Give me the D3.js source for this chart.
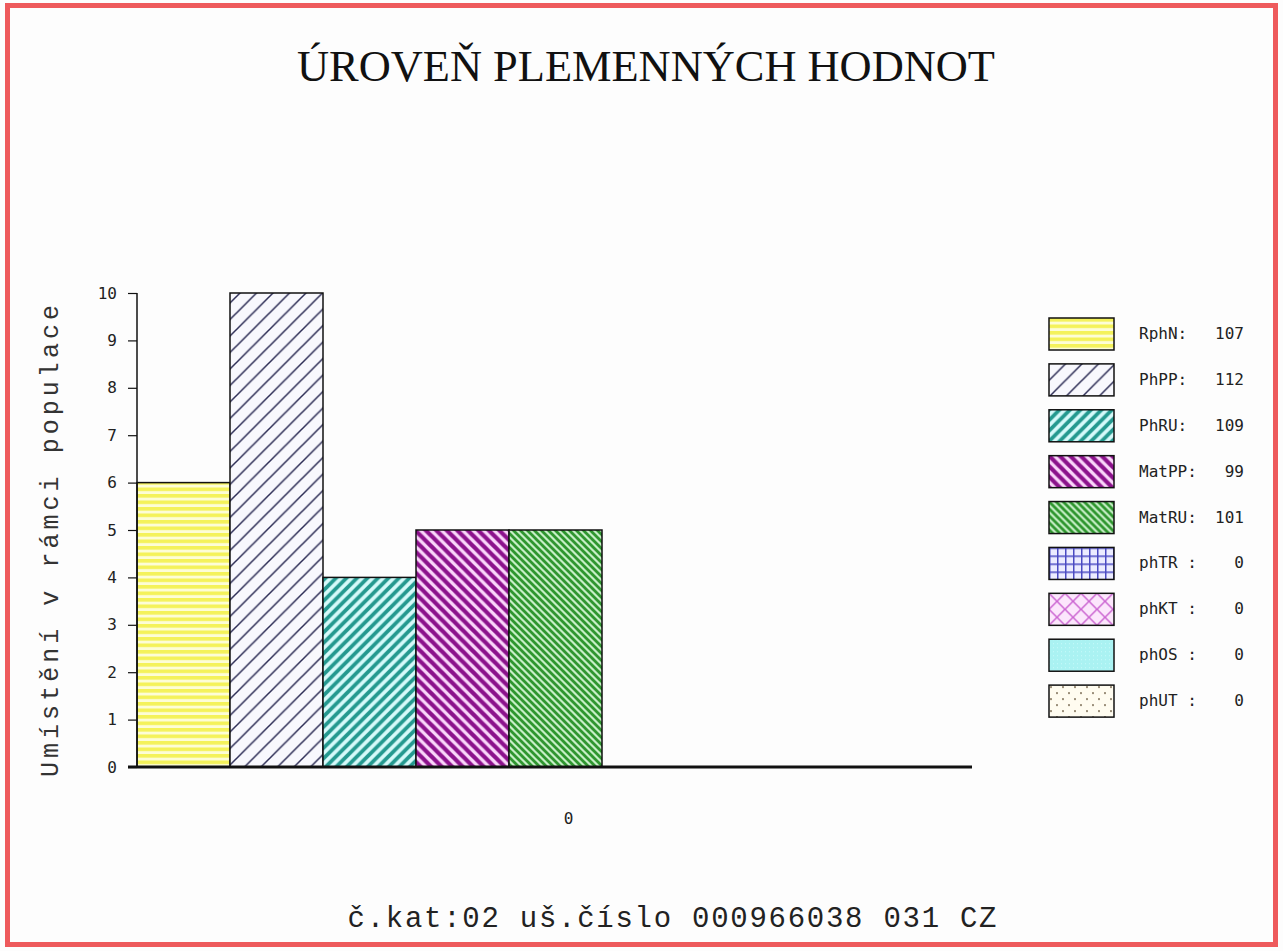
<!DOCTYPE html>
<html>
<head>
<meta charset="utf-8">
<script src="https://cdn.jsdelivr.net/npm/d3@7"></script>
<style>
  html, body { margin: 0; padding: 0; background: #ffffff; }
  svg { display: block; }
</style>
</head>
<body>
<svg id="chart" width="1283" height="951"></svg>
<script>
// ---- data ----
const categories = ["0"];
const seriesNames = ["RphN", "PhPP", "PhRU", "MatPP", "MatRU", "phTR", "phKT", "phOS", "phUT"];
const placement = [6, 10, 4, 5, 5, 0, 0, 0, 0];          // Umístění v rámci populace
const breedingValues = [107, 112, 109, 99, 101, 0, 0, 0, 0];
const legendLabels = ["RphN:", "PhPP:", "PhRU:", "MatPP:", "MatRU:", "phTR :", "phKT :", "phOS :", "phUT :"];
const yTicks = [0, 1, 2, 3, 4, 5, 6, 7, 8, 9, 10];
const titleText = "ÚROVEŇ PLEMENNÝCH HODNOT";
const yAxisTitle = "Umístění v rámci populace";
const footerText = "č.kat:02 uš.číslo 000966038 031 CZ";

const svg = d3.select("#chart");
const W = 1283, H = 951;

// background and frame
svg.append("rect").attr("x", 0).attr("y", 0).attr("width", W).attr("height", H).attr("fill", "#fdfdfd");
svg.append("rect").attr("x", 7.5).attr("y", 5.5).attr("width", 1268).attr("height", 939)
  .attr("fill", "none").attr("stroke", "#ee5a5c").attr("stroke-width", 5);

// ---- patterns ----
const defs = svg.append("defs");
function pat(id, w, h) {
  return defs.append("pattern").attr("id", id).attr("patternUnits", "userSpaceOnUse")
    .attr("width", w).attr("height", h);
}
// RphN: horizontal yellow stripes
{
  const p = pat("p0", 8, 6.5);
  p.append("rect").attr("width", 8).attr("height", 6.5).attr("fill", "#fdfdd6");
  p.append("rect").attr("y", 0).attr("width", 8).attr("height", 3.6).attr("fill", "#f4f25a");
}
// PhPP: thin navy "/" lines
{
  const s = 16.5;
  const p = pat("p1", s, s);
  p.append("rect").attr("width", s).attr("height", s).attr("fill", "#f8f8fd");
  p.append("path").attr("d", `M0,${s} L${s},0 M-2,2 L2,-2 M${s-2},${s+2} L${s+2},${s-2}`)
    .attr("stroke", "#2c2c55").attr("stroke-width", 1.5);
}
// PhRU: teal "/" stripes
{
  const s = 10.5;
  const p = pat("p2", s, s);
  p.append("rect").attr("width", s).attr("height", s).attr("fill", "#d6fafa");
  p.append("path").attr("d", `M0,${s} L${s},0 M-3,3 L3,-3 M${s-3},${s+3} L${s+3},${s-3}`)
    .attr("stroke", "#24998f").attr("stroke-width", 3.8);
}
// MatPP: purple "\" stripes
{
  const s = 10.5;
  const p = pat("p3", s, s);
  p.append("rect").attr("width", s).attr("height", s).attr("fill", "#fad6fa");
  p.append("path").attr("d", `M0,0 L${s},${s} M-3,${s-3} L3,${s+3} M${s-3},-3 L${s+3},3`)
    .attr("stroke", "#8c128c").attr("stroke-width", 4.2);
}
// MatRU: green "\" fine stripes
{
  const s = 7;
  const p = pat("p4", s, s);
  p.append("rect").attr("width", s).attr("height", s).attr("fill", "#c6eec6");
  p.append("path").attr("d", `M0,0 L${s},${s} M-3,${s-3} L3,${s+3} M${s-3},-3 L${s+3},3`)
    .attr("stroke", "#2f962f").attr("stroke-width", 2.8);
}
// phTR: blue grid
{
  const s = 8;
  const p = pat("p5", s, s);
  p.append("rect").attr("width", s).attr("height", s).attr("fill", "#ececff");
  p.append("path").attr("d", `M0,0.75 L${s},0.75 M0.75,0 L0.75,${s}`)
    .attr("stroke", "#4a4ac2").attr("stroke-width", 1.5);
}
// phKT: pink diamond crosshatch
{
  const s = 16;
  const p = pat("p6", s, s);
  p.append("rect").attr("width", s).attr("height", s).attr("fill", "#fce6fc");
  p.append("path").attr("d", `M0,0 L${s},${s} M0,${s} L${s},0`)
    .attr("stroke", "#cc66d2").attr("stroke-width", 1.5);
}
// phOS: light cyan
{
  const s = 4;
  const p = pat("p7", s, s);
  p.append("rect").attr("width", s).attr("height", s).attr("fill", "#aaf2f2");
  p.append("rect").attr("x", 0).attr("y", 0).attr("width", 1).attr("height", 1).attr("fill", "#c8fafa");
}
// phUT: sparse dots
{
  const s = 12;
  const p = pat("p8", s, s);
  p.append("rect").attr("width", s).attr("height", s).attr("fill", "#fffcf0");
  p.append("circle").attr("cx", 2).attr("cy", 2).attr("r", 0.9).attr("fill", "#6a5a40");
  p.append("circle").attr("cx", 8).attr("cy", 8).attr("r", 0.9).attr("fill", "#6a5a40");
}
const fills = seriesNames.map((d, i) => `url(#p${i})`);

// ---- scales ----
const plotLeft = 137, plotRight = 974, plotTop = 293, plotBottom = 767;
const y = d3.scaleLinear().domain([0, 10]).range([plotBottom, plotTop]);
const x0 = d3.scaleBand().domain(categories).range([plotLeft, plotRight]).padding(0);
const x1 = d3.scaleBand().domain(seriesNames).range([0, x0.bandwidth()]).padding(0);

// ---- title ----
svg.append("text").attr("x", 646).attr("y", 81).attr("text-anchor", "middle")
  .attr("font-family", "'Liberation Serif', 'Times New Roman', serif").attr("font-size", 44)
  .attr("fill", "#111").attr("textLength", 698).attr("lengthAdjust", "spacingAndGlyphs")
  .text(titleText);

// ---- bars ----
const groups = svg.append("g").selectAll("g").data(categories).join("g")
  .attr("transform", d => `translate(${x0(d)},0)`);
groups.selectAll("rect")
  .data(seriesNames.map((s, i) => ({ s, v: placement[i], i })).filter(d => d.v > 0))
  .join("rect")
  .attr("x", d => x1(d.s))
  .attr("y", d => y(d.v))
  .attr("width", x1.bandwidth())
  .attr("height", d => y(0) - y(d.v))
  .attr("fill", d => fills[d.i])
  .attr("stroke", "#111").attr("stroke-width", 1.5);

// ---- y axis ----
const yAxis = d3.axisLeft(y).tickValues(yTicks).tickFormat(d3.format("d")).tickSize(9).tickPadding(11);
const gy = svg.append("g").attr("transform", `translate(${plotLeft},0)`).call(yAxis);
gy.select(".domain").attr("stroke", "#111").attr("stroke-width", 1.5).attr("d", `M0,${plotTop}V${plotBottom}`);
gy.selectAll(".tick line").attr("stroke", "#111").attr("stroke-width", 1.2);
gy.selectAll(".tick text").attr("font-family", "'DejaVu Sans Mono', monospace").attr("font-size", 16).attr("fill", "#222");

// ---- x axis ----
const xAxis = d3.axisBottom(x0).tickSize(0).tickPadding(0);
const gx = svg.append("g").attr("transform", `translate(0,${plotBottom})`).call(xAxis);
gx.select(".domain").attr("stroke", "#111").attr("stroke-width", 3).attr("d", `M${plotLeft - 9},0H${972}`);
gx.selectAll(".tick text").attr("font-family", "'DejaVu Sans Mono', monospace").attr("font-size", 16)
  .attr("fill", "#222").attr("dy", 0).attr("y", 57).attr("dx", 13);

// ---- y axis title ----
svg.append("text").attr("transform", `translate(58,541) rotate(-90)`).attr("text-anchor", "middle")
  .attr("font-family", "'Liberation Mono', 'DejaVu Sans Mono', monospace").attr("font-size", 25)
  .attr("fill", "#333").attr("textLength", 472).attr("lengthAdjust", "spacing")
  .text(yAxisTitle);

// ---- footer ----
svg.append("text").attr("x", 672).attr("y", 927).attr("text-anchor", "middle")
  .attr("font-family", "'Liberation Mono', 'DejaVu Sans Mono', monospace").attr("font-size", 29)
  .attr("fill", "#222").attr("textLength", 649).attr("lengthAdjust", "spacing")
  .text(footerText);

// ---- legend ----
const legendY = d3.scaleBand().domain(seriesNames).range([311, 724]).padding(0);
const lg = svg.append("g").selectAll("g").data(seriesNames).join("g")
  .attr("transform", d => `translate(1049,${legendY(d) + 7})`);
lg.append("rect").attr("width", 65).attr("height", 32)
  .attr("fill", (d, i) => fills[i]).attr("stroke", "#111").attr("stroke-width", 1.5);
lg.append("text").attr("x", 90).attr("y", 21)
  .attr("font-family", "'DejaVu Sans Mono', monospace").attr("font-size", 16).attr("fill", "#222")
  .text((d, i) => legendLabels[i]);
lg.append("text").attr("x", 195).attr("y", 21).attr("text-anchor", "end")
  .attr("font-family", "'DejaVu Sans Mono', monospace").attr("font-size", 16).attr("fill", "#222")
  .text((d, i) => breedingValues[i]);
</script>
</body>
</html>
